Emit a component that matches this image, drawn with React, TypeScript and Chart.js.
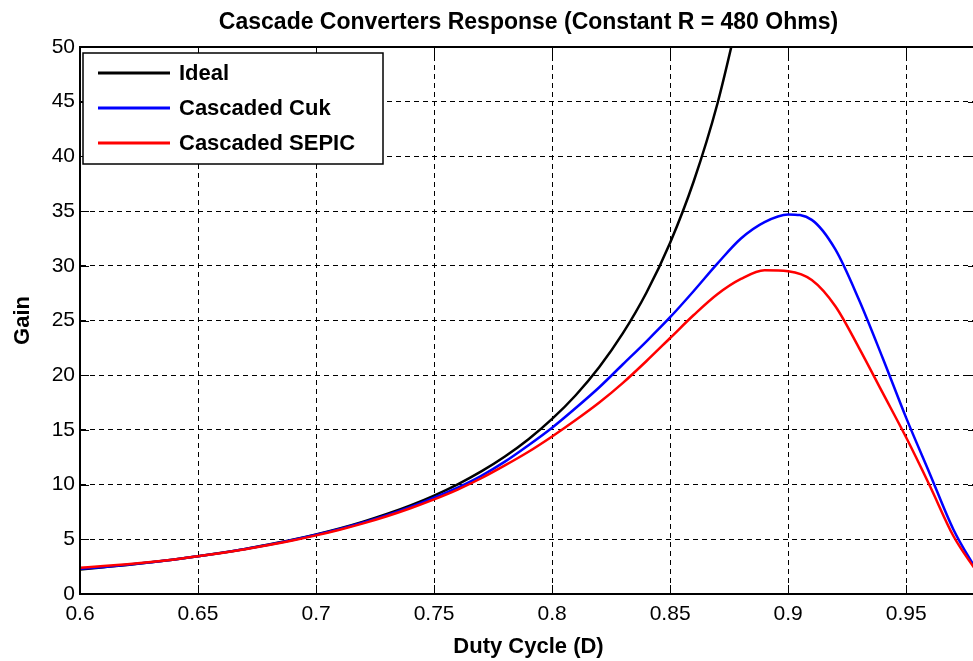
import React, { useEffect, useRef } from "react";
import { Chart, registerables } from "chart.js";

Chart.register(...registerables);

const chartTitle = "Cascade Converters Response (Constant R = 480 Ohms)";
const xAxisTitle = "Duty Cycle (D)";
const yAxisTitle = "Gain";
const seriesNames = ["Ideal", "Cascaded Cuk", "Cascaded SEPIC"];
const seriesColors = ["#000000", "#0000ff", "#ff0000"];

const dutyCycle = [
  0.6, 0.61, 0.62, 0.63, 0.64, 0.65, 0.66, 0.67, 0.68, 0.69,
  0.7, 0.71, 0.72, 0.73, 0.74, 0.75, 0.76, 0.77, 0.78, 0.79,
  0.8, 0.81, 0.82, 0.83, 0.84, 0.85, 0.86, 0.87, 0.88, 0.89,
  0.9, 0.91, 0.92, 0.93, 0.94, 0.95, 0.96, 0.97, 0.98,
];

const idealGain = [
  2.25, 2.45, 2.66, 2.9, 3.16, 3.45, 3.77, 4.12, 4.52, 4.95,
  5.44, 5.99, 6.61, 7.31, 8.1, 9.0, 10.03, 11.21, 12.57, 14.15,
  16.0, 18.17, 20.75, 23.84, 27.56, 32.11, 37.73, 44.79, 53.78,
];

const cukGain = [
  2.3, 2.47, 2.67, 2.9, 3.15, 3.45, 3.76, 4.11, 4.5, 4.93,
  5.41, 5.94, 6.53, 7.2, 7.95, 8.8, 9.72, 10.8, 12.1, 13.6,
  15.2, 17.0, 18.9, 21.0, 23.1, 25.3, 27.7, 30.2, 32.5, 34.0,
  34.7, 34.2, 31.5, 26.9, 21.6, 16.1, 11.0, 5.9, 2.1,
];

const sepicGain = [
  2.4, 2.55, 2.72, 2.92, 3.16, 3.45, 3.75, 4.09, 4.47, 4.89,
  5.36, 5.88, 6.46, 7.11, 7.84, 8.65, 9.55, 10.58, 11.75, 13.0,
  14.4, 15.9, 17.5, 19.3, 21.3, 23.4, 25.5, 27.4, 28.8, 29.6,
  29.5, 28.7, 26.3, 22.5, 18.4, 14.3, 9.9, 5.3, 2.0,
];

const xTickValues = [0.6, 0.65, 0.7, 0.75, 0.8, 0.85, 0.9, 0.95];
const xTickLabels = ["0.6", "0.65", "0.7", "0.75", "0.8", "0.85", "0.9", "0.95"];
const yTickValues = [0, 5, 10, 15, 20, 25, 30, 35, 40, 45, 50];
const yTickLabels = ["0", "5", "10", "15", "20", "25", "30", "35", "40", "45", "50"];

const FONT = "'Liberation Sans', Arial, Helvetica, sans-serif";

const toPoints = (ys: number[]) => ys.map((v, i) => ({ x: dutyCycle[i], y: v }));

const framePlugin = {
  id: "matlabFrame",
  afterDatasetsDraw(chart: any) {
    const { ctx, chartArea, scales } = chart;
    const { left, right, top, bottom } = chartArea;
    const x = scales.x;
    const y = scales.y;
    ctx.save();
    // inner tick marks
    ctx.strokeStyle = "#000";
    ctx.lineWidth = 1;
    ctx.setLineDash([]);
    ctx.beginPath();
    xTickValues.forEach((v) => {
      const px = Math.round(x.getPixelForValue(v)) + 0.5;
      ctx.moveTo(px, bottom);
      ctx.lineTo(px, bottom - 9);
      ctx.moveTo(px, top);
      ctx.lineTo(px, top + 9);
    });
    yTickValues.forEach((v) => {
      const py = Math.round(y.getPixelForValue(v)) + 0.5;
      ctx.moveTo(left, py);
      ctx.lineTo(left + 9, py);
      ctx.moveTo(right, py);
      ctx.lineTo(right - 9, py);
    });
    ctx.stroke();
    // frame
    ctx.lineWidth = 2;
    ctx.strokeRect(left, top, right - left, bottom - top);

    // legend
    const bx = left + 3;
    const by = top + 6;
    const bw = 300;
    const bh = 111;
    ctx.fillStyle = "#fff";
    ctx.fillRect(bx, by, bw, bh);
    ctx.lineWidth = 1.5;
    ctx.strokeStyle = "#000";
    ctx.strokeRect(bx, by, bw, bh);
    chart.data.datasets.forEach((ds: any, i: number) => {
      const ry = by + 20 + i * 35;
      ctx.strokeStyle = ds.borderColor;
      ctx.lineWidth = 3;
      ctx.beginPath();
      ctx.moveTo(bx + 15, ry);
      ctx.lineTo(bx + 87, ry);
      ctx.stroke();
      ctx.fillStyle = "#000";
      ctx.font = `bold 22px ${FONT}`;
      ctx.textBaseline = "middle";
      ctx.textAlign = "left";
      ctx.fillText(ds.label, bx + 96, ry + 1);
    });
    ctx.restore();
  },
};

export default function App() {
  const canvasRef = useRef<HTMLCanvasElement | null>(null);

  useEffect(() => {
    const canvas = canvasRef.current;
    if (!canvas) return;
    Chart.defaults.font.family = FONT;
    const chart = new Chart(canvas, {
      type: "line",
      data: {
        datasets: [
          {
            label: seriesNames[0],
            data: toPoints(idealGain),
            borderColor: seriesColors[0],
            borderWidth: 2.5,
            pointRadius: 0,
            cubicInterpolationMode: "monotone",
            order: 2,
          },
          {
            label: seriesNames[1],
            data: toPoints(cukGain),
            borderColor: seriesColors[1],
            borderWidth: 2.5,
            pointRadius: 0,
            cubicInterpolationMode: "monotone",
            order: 1,
          },
          {
            label: seriesNames[2],
            data: toPoints(sepicGain),
            borderColor: seriesColors[2],
            borderWidth: 2.5,
            pointRadius: 0,
            cubicInterpolationMode: "monotone",
            order: 0,
          },
        ],
      },
      options: {
        animation: false,
        responsive: false,
        devicePixelRatio: 1,
        layout: { padding: { left: 0, right: 3, top: 0, bottom: 0 } },
        plugins: {
          legend: { display: false },
          tooltip: { enabled: false },
          title: {
            display: true,
            text: chartTitle,
            fullSize: false,
            color: "#000",
            font: { size: 23, weight: "bold", lineHeight: 1.2, family: FONT },
            padding: { top: 9, bottom: 10.4 },
          },
        },
        scales: {
          x: {
            type: "linear",
            min: 0.6,
            max: 0.98,
            afterBuildTicks: (s: any) => {
              s.ticks = xTickValues.map((v) => ({ value: v }));
            },
            afterFit: (s: any) => {
              s.height = 67;
            },
            ticks: {
              autoSkip: false,
              maxRotation: 0,
              color: "#000",
              padding: 8,
              font: { size: 21, family: FONT },
              callback: (_v: any, i: number) => xTickLabels[i],
            },
            grid: { color: "#000", lineWidth: 1, drawTicks: false },
            border: { display: true, color: "#000", width: 2, dash: [5, 4] },
            title: {
              display: true,
              text: xAxisTitle,
              color: "#000",
              font: { size: 22, weight: "bold", lineHeight: 1.2, family: FONT },
              padding: { top: 0, bottom: 1 },
            },
          },
          y: {
            type: "linear",
            min: 0,
            max: 50,
            afterBuildTicks: (s: any) => {
              s.ticks = yTickValues.map((v) => ({ value: v }));
            },
            afterFit: (s: any) => {
              s.width = 80;
            },
            ticks: {
              color: "#000",
              padding: 5,
              font: { size: 21, family: FONT },
              callback: (_v: any, i: number) => yTickLabels[i],
            },
            grid: { color: "#000", lineWidth: 1, drawTicks: false },
            border: { display: true, color: "#000", width: 2, dash: [5, 4] },
            title: {
              display: true,
              text: yAxisTitle,
              color: "#000",
              font: { size: 22, weight: "bold", lineHeight: 1.2, family: FONT },
              padding: { top: 10, bottom: 0 },
            },
          },
        },
      },
      plugins: [framePlugin],
    } as any);
    return () => chart.destroy();
  }, []);

  return (
    <div
      style={{
        position: "fixed",
        left: 0,
        top: 0,
        width: 973,
        height: 661,
        overflow: "hidden",
        background: "#fff",
      }}
    >
      <canvas ref={canvasRef} width={980} height={661} style={{ display: "block" }} />
    </div>
  );
}
